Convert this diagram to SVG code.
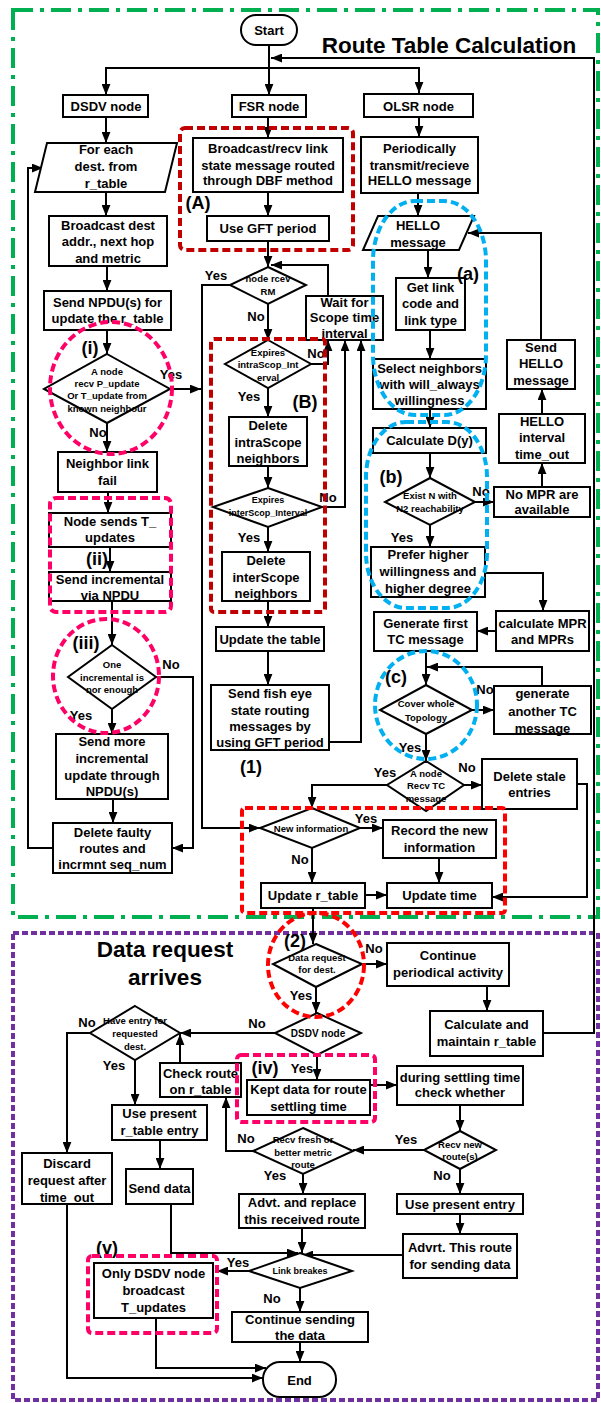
<svg xmlns="http://www.w3.org/2000/svg" width="601" height="1403" viewBox="0 0 601 1403">
<style>
.b{fill:#fff;stroke:#000;stroke-width:2}
text{font-family:"Liberation Sans",Arial,sans-serif;font-weight:bold;font-size:13px;text-anchor:middle;dominant-baseline:central;fill:#000}
.s{font-size:9.5px}
.l{font-size:18px}
.h{font-size:22.5px}
.c{fill:none;stroke:#000;stroke-width:2}
.a{fill:none;stroke:#000;stroke-width:2;marker-end:url(#ar)}
.dr{fill:none;stroke:#c00000;stroke-width:4;stroke-dasharray:8 4}
.rr{fill:none;stroke:#ff0000;stroke-width:4;stroke-dasharray:8 4}
.pk{fill:none;stroke:#ff0066;stroke-width:4;stroke-dasharray:8 4}
.bl{fill:none;stroke:#00b0f0;stroke-width:4;stroke-dasharray:8 4}
</style>
<defs>
<marker id="ar" viewBox="0 0 10 8" markerWidth="11" markerHeight="9" refX="10" refY="4" orient="auto" markerUnits="userSpaceOnUse"><path d="M0,0 L10,4 L0,8 z" fill="#000"/></marker>
</defs>
<rect width="601" height="1403" fill="#fff"/>
<g id="frames">
<rect x="13" y="10" width="585" height="907" fill="none" stroke="#00b050" stroke-width="4" stroke-dasharray="20 7 4 7"/>
<rect x="13" y="933" width="585" height="467" fill="none" stroke="#7030a0" stroke-width="4" stroke-dasharray="6 3"/>
<text class="h" x="449" y="45">Route Table Calculation</text>
<text class="h" x="165" y="949">Data request</text>
<text class="h" x="165" y="977">arrives</text>
</g>
<g id="connectors">
<path class="a" d="M269,45 V95"/>
<path class="a" d="M269,68 H106 V95"/>
<path class="a" d="M269,68 H419 V93"/>
<path class="a" d="M543,1033 H594 V58 H271"/>
<path class="a" d="M106,117 V143"/>
<path class="a" d="M106,192 V216"/>
<path class="a" d="M107,266 V291"/>
<path class="a" d="M107,330 V354"/>
<path class="a" d="M170,389 H201"/>
<path class="a" d="M107,423 V452"/>
<path class="a" d="M108,492 V513"/>
<path class="a" d="M110,547 V572"/>
<path class="a" d="M112,601 V645"/>
<path class="a" d="M156,677 H193 V848 H172"/>
<path class="a" d="M112,709 V734"/>
<path class="a" d="M113,799 V823"/>
<path class="a" d="M53,848 H28 V168 H43"/>
<path class="a" d="M268,117 V138"/>
<path class="a" d="M268,192 V216"/>
<path class="a" d="M268,241 V267"/>
<path class="a" d="M328,296 V265 H271"/>
<path class="a" d="M230,285 H202 V828 H260"/>
<path class="a" d="M268,304 V340"/>
<path class="a" d="M311,364 H328 V340"/>
<path class="a" d="M268,388 V417"/>
<path class="a" d="M268,466 V488"/>
<path class="a" d="M322,507 H345 V340"/>
<path class="a" d="M268,527 V552"/>
<path class="a" d="M268,601 V627"/>
<path class="a" d="M268,651 V685"/>
<path class="a" d="M329,742 H361 V340"/>
<path class="a" d="M419,117 V137"/>
<path class="a" d="M418,193 V216"/>
<path class="a" d="M428,250 V278"/>
<path class="a" d="M430,330 V359"/>
<path class="a" d="M430,409 V428"/>
<path class="a" d="M430,453 V478"/>
<path class="a" d="M475,502 H494"/>
<path class="a" d="M542,487 V463"/>
<path class="a" d="M542,414 V389"/>
<path class="a" d="M541,340 V233 H468"/>
<path class="a" d="M430,525 V547"/>
<path class="a" d="M485,573 H543 V611"/>
<path class="a" d="M496,631 H477"/>
<path class="a" d="M426,651 V685"/>
<path class="a" d="M542,686 V667 H427"/>
<path class="a" d="M472,710 H494"/>
<path class="a" d="M426,734 V761"/>
<path class="a" d="M464,785 H482"/>
<path class="a" d="M387,785 H312 V808"/>
<path class="a" d="M577,784 H587 V897 H492"/>
<path class="a" d="M360,828 H383"/>
<path class="a" d="M312,848 V883"/>
<path class="a" d="M439,858 V883"/>
<path class="a" d="M365,895 H387"/>
<path class="a" d="M313,908 V944"/>
<path class="a" d="M362,964 H387"/>
<path class="a" d="M487,986 V1011"/>
<path class="a" d="M316,987 V1013"/>
<path class="a" d="M275,1033 H180"/>
<path class="a" d="M317,1055 V1080"/>
<path class="a" d="M90,1033 H67 V1153"/>
<path class="a" d="M135,1060 V1105"/>
<path class="a" d="M180,1063 V1034"/>
<path class="a" d="M370,1085 H397"/>
<path class="a" d="M460,1105 V1131"/>
<path class="a" d="M424,1150 H353"/>
<path class="a" d="M460,1169 V1194"/>
<path class="a" d="M253,1151 H226 V1097"/>
<path class="a" d="M303,1174 V1194"/>
<path class="a" d="M460,1214 V1234"/>
<path class="a" d="M403,1255 H302"/>
<path class="a" d="M302,1228 V1253"/>
<path class="a" d="M160,1140 V1169"/>
<path class="a" d="M171,1204 V1253 H298"/>
<path class="a" d="M249,1271 H217"/>
<path class="a" d="M300,1288 V1312"/>
<path class="a" d="M300,1342 V1362"/>
<path class="a" d="M156,1318 V1368 H266"/>
<path class="a" d="M67,1204 V1378 H263"/>
</g>
<g id="start"><rect class="b" x="241" y="15" width="56" height="30" rx="15"/><text x="269" y="30">Start</text></g>
<g id="dsdv"><rect class="b" x="63" y="95" width="85" height="22"/><text x="106" y="106">DSDV node</text></g>
<g id="fsr"><rect class="b" x="232" y="95" width="74" height="22"/><text x="269" y="106">FSR node</text></g>
<g id="olsr"><rect class="b" x="364" y="94" width="109" height="23"/><text x="418.5" y="106">OLSR node</text></g>
<g id="foreach"><polygon class="b" points="47,143 177,143 165,192 35,192"/><text x="106" y="149">For each</text><text x="106" y="166">dest. from</text><text x="106" y="183">r_table</text></g>
<g id="bcast"><rect class="b" x="49" y="216" width="118" height="50"/><text x="108" y="225">Broadcast dest</text><text x="108" y="241">addr., next hop</text><text x="108" y="258">and metric</text></g>
<g id="npdu"><rect class="b" x="44" y="291" width="127" height="39"/><text x="107.5" y="302">Send NPDU(s) for</text><text x="107.5" y="318">update the r_table</text></g>
<g id="d-i"><polygon class="b" points="107,354 170,389 107,423 44,389"/><text class="s" x="107" y="371">A node</text><text class="s" x="107" y="383">recv P_update</text><text class="s" x="107" y="395">Or T_update from</text><text class="s" x="107" y="408">known neighbour</text></g>
<g id="nlf"><rect class="b" x="58" y="452" width="99" height="40"/><text x="107.5" y="463">Neighbor link</text><text x="107.5" y="480">fail</text></g>
<g id="tupd"><rect class="b" x="49" y="513" width="122" height="34"/><text x="110" y="521">Node sends T_</text><text x="110" y="537">updates</text></g>
<g id="incr"><rect class="b" x="49" y="572" width="122" height="29"/><text x="110" y="579">Send incremental</text><text x="110" y="595">via NPDU</text></g>
<g id="d-iii"><polygon class="b" points="112,645 156,677 112,709 68,677"/><text class="s" x="112" y="664">One</text><text class="s" x="112" y="677">incremental is</text><text class="s" x="112" y="689">nor enough</text></g>
<g id="more"><rect class="b" x="56" y="734" width="112" height="65"/><text x="112" y="741">Send more</text><text x="112" y="758">incremental</text><text x="112" y="775">update through</text><text x="112" y="791">NPDU(s)</text></g>
<g id="faulty"><rect class="b" x="53" y="823" width="119" height="50"/><text x="112.5" y="832">Delete faulty</text><text x="112.5" y="848">routes and</text><text x="112.5" y="864">incrmnt seq_num</text></g>
<g id="brecv"><rect class="b" x="193" y="138" width="150" height="54"/><text x="268" y="148">Broadcast/recv link</text><text x="268" y="165">state message routed</text><text x="268" y="180">through  DBF method</text></g>
<g id="gft"><rect class="b" x="207" y="216" width="122" height="25"/><text x="268" y="228">Use GFT period</text></g>
<g id="d-rm"><polygon class="b" points="268,267 306,285 268,304 230,285"/><text class="s" x="268" y="278">node rcev</text><text class="s" x="268" y="291">RM</text></g>
<g id="wait"><rect class="b" x="306" y="296" width="77" height="44"/><text x="344.5" y="302">Wait for</text><text x="344.5" y="317">Scope time</text><text x="344.5" y="333">interval</text></g>
<g id="d-intra"><polygon class="b" points="268,340 311,364 268,388 225,364"/><text class="s" x="268" y="352">Expires</text><text class="s" x="268" y="364">intraScop_Int</text><text class="s" x="268" y="377">erval</text></g>
<g id="delintra"><rect class="b" x="229" y="417" width="78" height="49"/><text x="268" y="425">Delete</text><text x="268" y="442">intraScope</text><text x="268" y="458">neighbors</text></g>
<g id="d-inter"><polygon class="b" points="268,488 322,507 268,527 213,507"/><text class="s" x="268" y="500" style="font-size:9px">Expires</text><text class="s" x="268" y="513" style="font-size:9px">interScop_Interval</text></g>
<g id="delinter"><rect class="b" x="222" y="552" width="88" height="49"/><text x="266" y="560">Delete</text><text x="266" y="577">interScope</text><text x="266" y="593">neighbors</text></g>
<g id="updtable"><rect class="b" x="216" y="627" width="108" height="24"/><text x="270" y="639">Update the table</text></g>
<g id="fisheye"><rect class="b" x="211" y="685" width="118" height="65"/><text x="270" y="693">Send fish eye</text><text x="270" y="710">state routing</text><text x="270" y="726">messages by</text><text x="270" y="742">using GFT period</text></g>
<g id="periodic"><rect class="b" x="361" y="137" width="117" height="56"/><text x="419.5" y="148">Periodically</text><text x="419.5" y="165">transmit/recieve</text><text x="419.5" y="180">HELLO message</text></g>
<g id="hello"><polygon class="b" points="378,216 474,216 459,250 363,250"/><text x="418" y="225">HELLO</text><text x="418" y="242">message</text></g>
<g id="getlink"><rect class="b" x="396" y="278" width="69" height="52"/><text x="430.5" y="287">Get link</text><text x="430.5" y="303">code and</text><text x="430.5" y="320">link type</text></g>
<g id="select"><rect class="b" x="373" y="359" width="113" height="50"/><text x="429.5" y="368">Select neighbors</text><text x="429.5" y="384">with will_always</text><text x="429.5" y="400">willingness</text></g>
<g id="calcd"><rect class="b" x="373" y="428" width="113" height="25"/><text x="429.5" y="440">Calculate D(y)</text></g>
<g id="d-exist"><polygon class="b" points="430,478 475,502 430,525 385,502"/><text class="s" x="430" y="495">Exist N with</text><text class="s" x="430" y="508">N2 reachability</text></g>
<g id="nompr"><rect class="b" x="494" y="487" width="96" height="30"/><text x="542" y="494">No MPR are</text><text x="542" y="509">available</text></g>
<g id="hint"><rect class="b" x="499" y="414" width="86" height="49"/><text x="542" y="421">HELLO</text><text x="542" y="437">interval</text><text x="542" y="454">time_out</text></g>
<g id="sendhello"><rect class="b" x="507" y="340" width="68" height="49"/><text x="541" y="347">Send</text><text x="541" y="363">HELLO</text><text x="541" y="380">message</text></g>
<g id="prefer"><rect class="b" x="371" y="547" width="114" height="50"/><text x="428" y="554">Prefer higher</text><text x="428" y="571">willingness and</text><text x="428" y="588">higher degree</text></g>
<g id="calcmpr"><rect class="b" x="496" y="611" width="93" height="40"/><text x="542.5" y="623">calculate MPR</text><text x="542.5" y="639">and MPRs</text></g>
<g id="gentc"><rect class="b" x="374" y="612" width="103" height="39"/><text x="425.5" y="623">Generate first</text><text x="425.5" y="639">TC message</text></g>
<g id="d-cover"><polygon class="b" points="426,685 472,710 426,734 380,710"/><text class="s" x="426" y="703">Cover whole</text><text class="s" x="426" y="717">Topology</text></g>
<g id="another"><rect class="b" x="494" y="686" width="97" height="48"/><text x="542.5" y="693">generate</text><text x="542.5" y="711">another TC</text><text x="542.5" y="728">message</text></g>
<g id="d-recvtc"><polygon class="b" points="426,761 464,785 426,811 387,785"/><text class="s" x="426" y="773">A node</text><text class="s" x="426" y="785">Recv TC</text><text class="s" x="426" y="798">message</text></g>
<g id="stale"><rect class="b" x="482" y="759" width="95" height="50"/><text x="529.5" y="776">Delete stale</text><text x="529.5" y="792">entries</text></g>
<g id="d-newinfo"><polygon class="b" points="312,808 360,828 312,848 260,828"/><text class="s" x="311" y="828">New information</text></g>
<g id="record"><rect class="b" x="383" y="820" width="113" height="38"/><text x="439.5" y="830">Record the new</text><text x="439.5" y="847">information</text></g>
<g id="updtime"><rect class="b" x="387" y="883" width="105" height="25"/><text x="439.5" y="895">Update time</text></g>
<g id="updr"><rect class="b" x="261" y="883" width="104" height="25"/><text x="313" y="895">Update r_table</text></g>
<g id="d-datareq"><polygon class="b" points="316,944 362,964 316,987 273,964"/><text class="s" x="317" y="957">Data request</text><text class="s" x="317" y="969">for dest.</text></g>
<g id="contper"><rect class="b" x="387" y="943" width="122" height="43"/><text x="448" y="955">Continue</text><text x="448" y="972">periodical activity</text></g>
<g id="maintain"><rect class="b" x="430" y="1011" width="113" height="45"/><text x="486.5" y="1024">Calculate and</text><text x="486.5" y="1041">maintain r_table</text></g>
<g id="d-dsdv"><polygon class="b" points="317,1013 361,1033 317,1055 275,1033"/><text class="s" x="318" y="1033" style="font-size:10px">DSDV node</text></g>
<g id="d-entry"><polygon class="b" points="135,1006 180,1033 135,1060 90,1033"/><text class="s" x="135" y="1020">Have entry for</text><text class="s" x="135" y="1033">requested</text><text class="s" x="135" y="1046">dest.</text></g>
<g id="checkroute"><rect class="b" x="160" y="1063" width="81" height="34"/><text x="200.5" y="1073">Check route</text><text x="200.5" y="1089">on r_table</text></g>
<g id="kept"><rect class="b" x="247" y="1080" width="123" height="35"/><text x="308.5" y="1089">Kept data for route</text><text x="308.5" y="1106">settling time</text></g>
<g id="settle"><rect class="b" x="397" y="1066" width="126" height="39"/><text x="460" y="1077">during settling time</text><text x="460" y="1092">check whether</text></g>
<g id="d-recvnew"><polygon class="b" points="460,1131 496,1150 460,1169 424,1150"/><text class="s" x="460" y="1144">Recv new</text><text class="s" x="460" y="1156">route(s)</text></g>
<g id="d-fresh"><polygon class="b" points="303,1128 353,1151 303,1174 253,1151"/><text class="s" x="303" y="1139">Recv fresh or</text><text class="s" x="303" y="1152">better metric</text><text class="s" x="303" y="1164">route</text></g>
<g id="usepresent"><rect class="b" x="397" y="1194" width="126" height="20"/><text x="460" y="1204">Use present entry</text></g>
<g id="advrt"><rect class="b" x="403" y="1234" width="114" height="44"/><text x="460" y="1247">Advrt. This route</text><text x="460" y="1264">for sending data</text></g>
<g id="advt"><rect class="b" x="239" y="1194" width="126" height="34"/><text x="302" y="1202">Advt. and replace</text><text x="302" y="1219">this received route</text></g>
<g id="usertable"><rect class="b" x="112" y="1105" width="95" height="35"/><text x="159.5" y="1113">Use present</text><text x="159.5" y="1130">r_table entry</text></g>
<g id="senddata"><rect class="b" x="126" y="1169" width="67" height="35"/><text x="159.5" y="1188">Send data</text></g>
<g id="discard"><rect class="b" x="22" y="1153" width="90" height="51"/><text x="67" y="1163">Discard</text><text x="67" y="1180">request after</text><text x="67" y="1197">time_out</text></g>
<g id="d-link"><polygon class="b" points="300,1253 352,1271 300,1288 249,1271"/><text class="s" x="300" y="1271" style="font-size:9px">Link breakes</text></g>
<g id="onlydsdv"><rect class="b" x="94" y="1263" width="119" height="55"/><text x="153.5" y="1273">Only DSDV node</text><text x="153.5" y="1290">broadcast</text><text x="153.5" y="1307">T_updates</text></g>
<g id="contsend"><rect class="b" x="232" y="1312" width="136" height="30"/><text x="300" y="1319">Continue sending</text><text x="300" y="1335">the data</text></g>
<g id="end"><rect class="b" x="263" y="1362" width="73" height="35" rx="17"/><text x="299.5" y="1380">End</text></g>
<g id="labels">
<text x="171" y="374">Yes</text>
<text x="98" y="432">No</text>
<text x="171" y="664">No</text>
<text x="81" y="715">Yes</text>
<text x="216" y="275">Yes</text>
<text x="256" y="316">No</text>
<text x="316" y="353">No</text>
<text x="249" y="396">Yes</text>
<text x="328" y="497">No</text>
<text x="249" y="537">Yes</text>
<text x="481" y="491">No</text>
<text x="402" y="537">Yes</text>
<text x="485" y="689">No</text>
<text x="410" y="747">Yes</text>
<text x="385" y="772">Yes</text>
<text x="467" y="767">No</text>
<text x="366" y="818">Yes</text>
<text x="300" y="859">No</text>
<text x="374" y="948">No</text>
<text x="301" y="995">Yes</text>
<text x="257" y="1023">No</text>
<text x="87" y="1022">No</text>
<text x="114" y="1065">Yes</text>
<text x="302" y="1068">Yes</text>
<text x="246" y="1138">No</text>
<text x="406" y="1139">Yes</text>
<text x="442" y="1175">No</text>
<text x="275" y="1175">Yes</text>
<text x="238" y="1262">Yes</text>
<text x="272" y="1298">No</text>
<text class="l" x="90" y="348">(i)</text>
<text class="l" x="97" y="559">(ii)</text>
<text class="l" x="86" y="643">(iii)</text>
<text class="l" x="198" y="203">(A)</text>
<text class="l" x="305" y="402">(B)</text>
<text class="l" x="251" y="767">(1)</text>
<text class="l" x="468" y="274">(a)</text>
<text class="l" x="391" y="477">(b)</text>
<text class="l" x="396" y="677">(c)</text>
<text class="l" x="295" y="941">(2)</text>
<text class="l" x="265" y="1068">(iv)</text>
<text class="l" x="107" y="1248">(v)</text>
</g>
<g id="highlights">
<rect class="dr" x="180" y="128" width="173" height="122" rx="5"/>
<rect class="dr" x="211" y="339" width="114" height="273" rx="3"/>
<rect class="rr" x="242" y="808" width="263" height="105" rx="3"/>
<ellipse class="rr" cx="316" cy="965" rx="48" ry="52"/>
<ellipse class="pk" cx="111" cy="388" rx="61" ry="66"/>
<rect class="pk" x="50" y="498" width="121" height="114" rx="6"/>
<ellipse class="pk" cx="106" cy="676" rx="53" ry="57"/>
<rect class="pk" x="237" y="1055" width="138" height="67" rx="4"/>
<rect class="pk" x="88" y="1256" width="129" height="77" rx="4"/>
<rect class="bl" x="373" y="201" width="113" height="214" rx="42" ry="60"/>
<rect class="bl" x="366" y="422" width="121" height="186" rx="40" ry="55"/>
<ellipse class="bl" cx="426" cy="705" rx="51" ry="54"/>
</g>
</svg>
